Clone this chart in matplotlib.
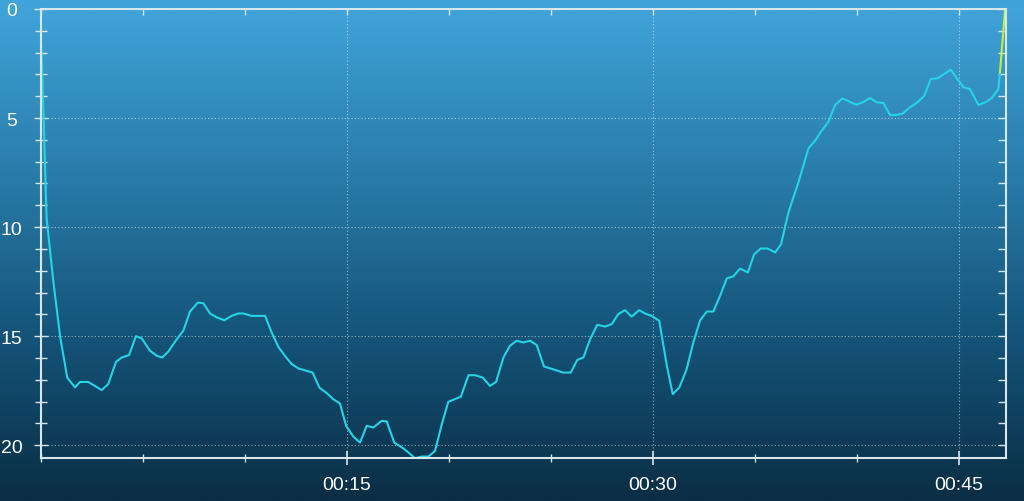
import numpy as np
import matplotlib
matplotlib.use("Agg")
import matplotlib.pyplot as plt
from matplotlib.colors import LinearSegmentedColormap
from matplotlib.ticker import MultipleLocator, NullFormatter

# Dive profile: time (minutes) and depth
time_min = [0.0, 0.05, 0.29, 0.62, 0.95, 1.30, 1.68, 1.93, 2.33, 2.99, 3.31, 3.69, 3.97,
            4.33, 4.67, 4.95, 5.36, 5.69, 5.96, 6.26, 6.67, 6.99, 7.32, 7.70, 7.97, 8.30,
            8.63, 9.00, 9.36, 9.69, 9.93, 10.34, 11.00, 11.32, 11.65, 11.97, 12.30, 12.63,
            13.33, 13.66, 14.02, 14.34, 14.67, 14.97, 15.32, 15.65, 15.98, 16.30, 16.72,
            16.96, 17.33, 17.78, 18.07, 18.35, 18.68, 19.00, 19.33, 19.66, 19.98, 20.59,
            20.97, 21.29, 21.67, 22.02, 22.32, 22.68, 23.00, 23.33, 23.66, 23.99, 24.31,
            24.67, 25.62, 25.98, 26.30, 26.60, 26.93, 27.28, 27.66, 27.99, 28.31, 28.64,
            28.97, 29.33, 29.62, 29.95, 30.32, 30.69, 30.98, 31.30, 31.65, 31.99, 32.32,
            32.65, 32.97, 33.30, 33.63, 33.95, 34.28, 34.66, 34.97, 35.29, 35.62, 36.00,
            36.29, 36.65, 37.14, 37.63, 37.96, 38.28, 38.61, 38.94, 39.30, 39.64, 39.97,
            40.29, 40.65, 40.98, 41.30, 41.63, 41.96, 42.25, 42.61, 42.97, 43.31, 43.63,
            43.95, 44.28, 44.61, 44.93, 45.23, 45.55, 45.96, 46.29, 46.62, 46.94, 47.02]
depth_m = [1.2, 2.2, 9.6, 12.5, 15.0, 16.9, 17.35, 17.1, 17.1, 17.47, 17.2, 16.18, 15.98,
           15.87, 15.0, 15.1, 15.67, 15.9, 15.98, 15.7, 15.14, 14.75, 13.87, 13.46, 13.49,
           13.96, 14.14, 14.27, 14.07, 13.96, 13.96, 14.07, 14.07, 14.83, 15.49, 15.9,
           16.28, 16.48, 16.67, 17.36, 17.61, 17.89, 18.09, 19.11, 19.6, 19.88, 19.11,
           19.19, 18.88, 18.91, 19.88, 20.15, 20.37, 20.6, 20.52, 20.52, 20.26, 19.04,
           18.01, 17.78, 16.79, 16.79, 16.9, 17.28, 17.1, 15.98, 15.44, 15.21, 15.29,
           15.21, 15.41, 16.39, 16.67, 16.67, 16.09, 15.98, 15.14, 14.48, 14.56, 14.45,
           13.99, 13.81, 14.1, 13.81, 13.96, 14.07, 14.3, 16.36, 17.66, 17.36, 16.55,
           15.29, 14.28, 13.87, 13.87, 13.15, 12.35, 12.26, 11.9, 12.08, 11.25, 10.98,
           10.98, 11.16, 10.78, 9.33, 7.95, 6.39, 6.04, 5.58, 5.17, 4.4, 4.1, 4.25, 4.39,
           4.28, 4.08, 4.28, 4.31, 4.86, 4.86, 4.79, 4.51, 4.28, 3.98, 3.21, 3.18, 2.98,
           2.78, 3.21, 3.59, 3.67, 4.4, 4.28, 4.08, 3.67, 2.9]
# Final ascent segment (highlighted)
ascent_time = [47.02, 47.27]
ascent_depth = [2.9, 0.0]

x_major = [15, 30, 45]
x_labels = ["00:15", "00:30", "00:45"]
y_major = [0, 5, 10, 15, 20]
y_labels = ["0", "5", "10", "15", "20"]

W, H = 1024, 502
fig = plt.figure(figsize=(W / 100, H / 100), dpi=100)

# background gradient over whole figure
bg = fig.add_axes([0, 0, 1, 1])
bg.set_axis_off()
cmap = LinearSegmentedColormap.from_list("sea", ["#41a5dc", "#2a7eac", "#15547a", "#0a2e44"])
grad = np.linspace(0, 1, 256).reshape(-1, 1)
bg.imshow(grad, aspect="auto", cmap=cmap, extent=[0, 1, 0, 1], origin="upper")
bg.set_xlim(0, 1); bg.set_ylim(0, 1)

ax = fig.add_axes([40.7 / W, 1 - 459.3 / H, (1005.7 - 40.7) / W, (459.3 - 10) / H])
ax.patch.set_alpha(0)

spine_c = "#d8e6ee"
for s in ax.spines.values():
    s.set_color(spine_c)
    s.set_linewidth(1.5)

ax.plot(time_min, depth_m, color="#26d4e6", lw=1.5, solid_joinstyle="round")
ax.plot(ascent_time, ascent_depth, color="#c6ef3c", lw=1.5)

ax.set_xlim(0, 47.3)
ax.set_ylim(20.6, 0)

ax.set_xticks(x_major)
ax.set_xticklabels(x_labels)
ax.xaxis.set_minor_locator(MultipleLocator(5))
ax.set_yticks(y_major)
ax.set_yticklabels(y_labels)
ax.yaxis.set_minor_locator(MultipleLocator(1))

ax.grid(True, which="major", color="white", alpha=0.55, linestyle=(0, (1, 2)), lw=0.8)

ax.tick_params(axis="both", which="both", colors=spine_c, labelcolor="white",
               labelsize=14)
ax.tick_params(axis="x", which="major", direction="inout", length=10, width=1.2, pad=8)
ax.tick_params(axis="x", which="minor", direction="inout", length=6, width=1.0)
ax.tick_params(axis="y", which="major", direction="inout", length=10, width=1.0, pad=16)
ax.tick_params(axis="y", which="minor", direction="inout", length=8, width=1.0)
for lab in ax.get_xticklabels() + ax.get_yticklabels():
    lab.set_family(["Liberation Sans", "DejaVu Sans"])
for lab in ax.get_yticklabels():
    lab.set_horizontalalignment("center")

# inward ticks on top and right sides
top = ax.secondary_xaxis("top")
top.set_xticks(x_major)
top.xaxis.set_minor_locator(MultipleLocator(5))
top.xaxis.set_major_formatter(NullFormatter())
top.tick_params(which="both", direction="in", length=4, width=1.0, colors=spine_c)
top.spines["top"].set_visible(False)

right = ax.secondary_yaxis("right")
right.set_yticks(y_major)
right.yaxis.set_minor_locator(MultipleLocator(1))
right.yaxis.set_major_formatter(NullFormatter())
right.tick_params(which="both", direction="in", length=6, width=1.0, colors=spine_c)
right.spines["right"].set_visible(False)

fig.savefig("out.png", dpi=100)
